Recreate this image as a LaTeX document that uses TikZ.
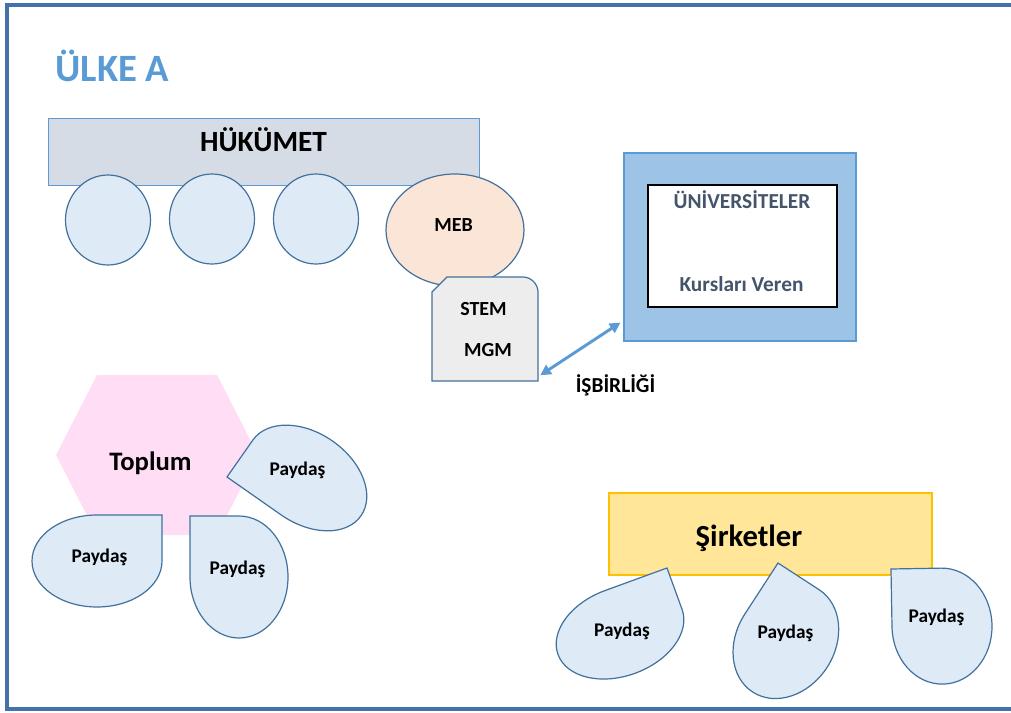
\documentclass[tikz,border=0pt]{standalone}
\usepackage{fontspec}
\setmainfont{Carlito}
\usetikzlibrary{arrows.meta,calc,shapes.geometric}
\definecolor{framec}{HTML}{4472A8}
\definecolor{titlec}{HTML}{5B9BD5}
\definecolor{govfill}{HTML}{D6DCE5}
\definecolor{lightline}{HTML}{5B9BD5}
\definecolor{bubfill}{HTML}{DEEBF7}
\definecolor{bubline}{HTML}{41719C}
\definecolor{mebfill}{HTML}{FBE5D6}
\definecolor{stemfill}{HTML}{EDEDED}
\definecolor{unifill}{HTML}{9DC3E6}
\definecolor{unitext}{HTML}{44546A}
\definecolor{hexfill}{HTML}{FFDDF5}
\definecolor{cofill}{HTML}{FFE699}
\definecolor{coline}{HTML}{FFC000}
\newcommand{\myfs}[1]{\fontsize{#1}{#1}\selectfont}
\newcommand{\mytear}[2]{\draw[tear] (-#1,0) -- (0,0) -- (0,#2) arc[start angle=0,end angle=270,x radius=#1,y radius=#2] -- cycle;}
\begin{document}
\begin{tikzpicture}[x=0.75pt,y=-0.75pt,
 tx/.style={inner sep=0pt, anchor=base, font=\bfseries},
 bub/.style={draw=bubline, fill=bubfill, line width=0.9pt},
 tear/.style={bub},
 box/.style={rectangle, inner sep=0pt},
 ptx/.style={tx, font=\bfseries\myfs{14.5pt}}
]
\useasboundingbox (0,0) rectangle (1011,713);
\clip (0,0) rectangle (1011,713);
\fill[white] (0,0) rectangle (1011,713);
\draw[framec, line width=3.2pt] (7,5) rectangle (1020,709);

\node[tx, text=titlec, font=\bfseries\myfs{29pt}] (title) at (112.5,82) {ÜLKE A};

% government
\node[box, draw=lightline, fill=govfill, line width=0.7pt, minimum width={431*0.75pt}, minimum height={67*0.75pt}] (gov) at (263.5,151.5) {};
\node[tx, font=\bfseries\myfs{22pt}] (govt) at (263.5,152) {HÜKÜMET};
\node[ellipse, bub, inner sep=0pt, minimum width={85*0.75pt}, minimum height={90*0.75pt}] (c1) at (108,220) {};
\node[ellipse, bub, inner sep=0pt, minimum width={85*0.75pt}, minimum height={90*0.75pt}] (c2) at (212,219) {};
\node[ellipse, bub, inner sep=0pt, minimum width={85*0.75pt}, minimum height={90*0.75pt}] (c3) at (316,219) {};
\node[ellipse, bub, fill=mebfill, inner sep=0pt, minimum width={138*0.75pt}, minimum height={112*0.75pt}] (meb) at (455,230) {};
\node[tx, font=\bfseries\myfs{15pt}] (mebt) at (453.5,231.5) {MEB};

% STEM / MGM
\draw[bub, fill=stemfill] (432,381) -- (432,292) -- (447,277) -- (523,277) .. controls (531,277) and (538,284) .. (538,292) -- (538,381) -- cycle;
\node[box, minimum width={106*0.75pt}, minimum height={104*0.75pt}] (stem) at (485,329) {};
\node[tx, font=\bfseries\myfs{15pt}] (stemt) at (483.5,315.5) {STEM};
\node[tx, font=\bfseries\myfs{15pt}] (mgmt) at (488,356) {MGM};

% universities
\node[box, draw=lightline, fill=unifill, line width=0.8pt, minimum width={232*0.75pt}, minimum height={188*0.75pt}] (univ) at (740,247) {};
\node[box, draw=black, fill=white, line width=1.1pt, minimum width={189*0.75pt}, minimum height={122*0.75pt}] (uinner) at (742.5,246) {};
\node[tx, text=unitext, font=\bfseries\myfs{16pt}] (unit) at (742,209) {ÜNİVERSİTELER};
\node[tx, text=unitext, font=\bfseries\myfs{16pt}] (kurs) at (741.5,291.5) {Kursları Veren};

\draw[{Triangle[length=8pt,width=8pt]}-{Triangle[length=8pt,width=8pt]}, lightline, line width=2.2pt] ($(stem.south east)+(2,-6)$) -- ($(univ.south west)+(-3,-19)$);
\node[tx, font=\bfseries\myfs{16pt}] (isb) at (615.5,392) {İŞBİRLİĞİ};

% society
\fill[hexfill] (97,375) -- (217,375) -- (258,455) -- (217,535) -- (97,535) -- (56,455) -- cycle;
\node[tx, font=\bfseries\myfs{20pt}] (top) at (150.5,470.5) {Toplum};
\begin{scope}[shift={(227,477)}, rotate=145] \mytear{66}{45} \end{scope}
\begin{scope}[shift={(162,515)}] \mytear{65}{46} \end{scope}
\begin{scope}[shift={(190,516)}, xscale=-1] \mytear{49}{61} \end{scope}
\node[ptx] (p1) at (297.5,475) {Paydaş};
\node[ptx] (p2) at (99.5,562.5) {Paydaş};
\node[ptx] (p3) at (237.5,574) {Paydaş};

% companies
\node[box, draw=coline, fill=cofill, line width=0.8pt, minimum width={323*0.75pt}, minimum height={82*0.75pt}] (co) at (770.5,534) {};
\node[tx, font=\bfseries\myfs{23pt}] (cot) at (749,546.5) {Şirketler};
\begin{scope}[shift={(667,568)}, rotate=20] \mytear{66}{44} \end{scope}
\begin{scope}[shift={(778,563)}, rotate=57] \mytear{61}{49} \end{scope}
\begin{scope}[shift={(891,569)}, rotate=91] \mytear{58}{50} \end{scope}
\node[ptx] (p4) at (622,636.5) {Paydaş};
\node[ptx] (p5) at (785.5,638) {Paydaş};
\node[ptx] (p6) at (936.5,622.5) {Paydaş};
\end{tikzpicture}
\end{document}
